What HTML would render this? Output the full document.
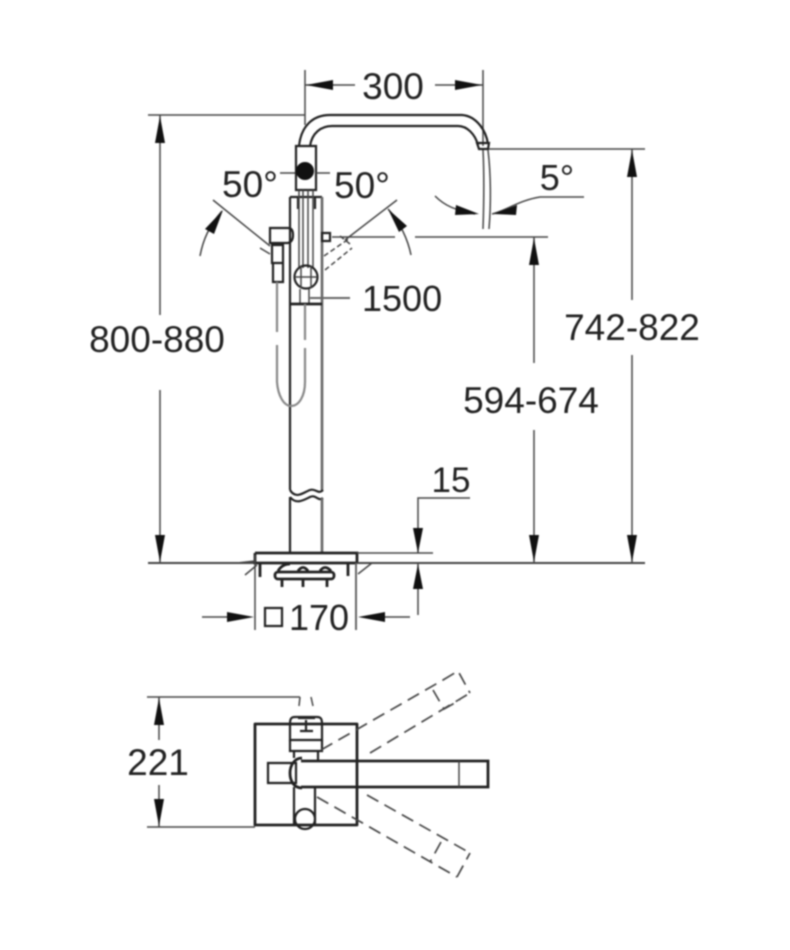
<!DOCTYPE html>
<html><head><meta charset="utf-8"><style>
html,body{margin:0;padding:0;background:#fff;width:790px;height:950px;overflow:hidden}
svg{display:block;filter:blur(.7px)}
text{font-family:"Liberation Sans",sans-serif;font-size:37px;fill:#222}
.t{fill:none;stroke:#444;stroke-width:1.5}
.m{fill:none;stroke:#222;stroke-width:2.2}
.g{fill:none;stroke:#666;stroke-width:2.6}
.k{fill:none;stroke:#222;stroke-width:2.8}
.d{fill:none;stroke:#444;stroke-width:1.7;stroke-dasharray:13 7}
.a{fill:#111;stroke:none}
</style></head><body>
<svg width="790" height="950" viewBox="0 0 790 950" xmlns="http://www.w3.org/2000/svg">
<!-- 300 dim -->
<path class="t" d="M305 70V125M483 70V146M305 85H355M435 85H483"/>
<path class="a" d="M306 85L333 80V90ZM482 85L455 80V90Z"/>
<text x="393" y="99" text-anchor="middle">300</text>
<!-- left dim -->
<path class="t" d="M148 115H305M160 115V315M160 390V563"/>
<path class="g" style="stroke:#444;stroke-width:2" d="M148 563H255M356 563H645"/>
<path class="a" d="M160 116L155 143H165ZM160 562L155 535H165Z"/>
<text x="157" y="352" text-anchor="middle">800-880</text>
<!-- spout -->
<path class="m" d="M299 146C301 127 312 115 330 115H462C476 116 486 130 488 144"/>
<path class="m" d="M310 146C312 133 321 126 332 126H458C467 126 475 134 478 145"/>
<path class="m" d="M477 143L479 149H488L489 143Z"/>
<path class="t" d="M489 149H645M632 149V300M632 355V563"/>
<path class="a" d="M632 150L627 177H637ZM632 562L627 535H637Z"/>
<text x="632" y="340" text-anchor="middle">742-822</text>
<!-- water stream & 5 -->
<path class="t" d="M483 150C484 170 484 200 483 229M488 150C491 175 491 205 489 229"/>
<path class="t" d="M435 196C445 206 455 210 475 214M492 214C505 211 520 200 540 197H584"/>
<path class="a" d="M456 205L479 214L455 215ZM493 214L517 205L516 215Z"/>
<text x="557" y="190" text-anchor="middle" style="font-size:36px">5°</text>
<!-- upper body -->
<path class="m" d="M296 146H316V190H296Z"/>
<circle cx="305" cy="171" r="9" fill="#111"/>
<path class="t" d="M280 173H295M316 173H330"/>
<path class="m" d="M290 197H322M290 197V490M298 197V209M315 197V209"/>
<path class="g" d="M322 197V490"/>
<path class="t" d="M299 190V268M313 190V268M303 190V268M308 190V268"/>
<text x="250" y="197" text-anchor="middle">50°</text>
<text x="362" y="198" text-anchor="middle">50°</text>
<!-- handles -->
<path class="t" d="M213 200L270 246M397 200L345 240"/>
<path class="t" d="M200 256C203 240 209 226 222 211M411 255C408 240 400 222 388 209"/>
<path class="a" d="M223 210L205 229L214 234ZM388 209L399 232L407 226Z"/>
<path class="m" d="M270 228H288Q293 228 293 235T288 243H270Z"/>
<path class="m" d="M272 245H283V263H272ZM273 263H283V282H273Z"/>
<path class="t" d="M260 248L270 254"/>
<path class="m" d="M322 233H330V241H322Z"/>
<path class="t" d="M332 237H395M415 237H548M534 237V363M534 430V563"/>
<path class="t" stroke-dasharray="5 3" d="M324 256L350 238M325 270L352 248M340 236L350 244"/>
<path class="a" d="M534 238L529 265H539ZM534 562L529 535H539Z"/>
<text x="531" y="413" text-anchor="middle">594-674</text>
<!-- knob -->
<circle cx="306" cy="277" r="11.5" class="m"/>
<path class="t" d="M301 266V288M311 266V288M295 277H317"/>
<path class="t" d="M300 289V304M309 289V304"/>
<path class="g" style="stroke-width:2" d="M310 298H350"/>
<path class="k" d="M290 304H322"/>
<text x="362" y="311" style="font-size:36px">1500</text>
<!-- hose -->
<path class="g" style="stroke:#888;stroke-width:2.2" d="M277 282V332M277 345V382C278 396 284 406 291 406C299 406 305 396 305 382V348M305 340V304"/>
<!-- wave -->
<path class="m" d="M290 490C296 500 304 492 310 490S318 495 323 490"/>
<path class="m" d="M290 497C296 505 304 500 310 497S318 502 323 498"/>
<path class="m" d="M290 497V553"/>
<path class="g" d="M322 498V553"/>
<!-- base -->
<path class="k" d="M255 553H357V563M255 553V563H357"/>
<path class="t" d="M357 553H433M255 555V630"/>
<path class="g" style="stroke-width:2" d="M356 563V630"/>
<path class="k" d="M260 563V577M348 563V576"/>
<path class="t" d="M237 563L255 561M245 575L257 565M356 563H372L358 574"/>
<rect x="275" y="572" width="59" height="7" rx="3" class="k"/>
<path class="k" d="M282 578V587M303 578V587M327 578V587M278 571Q282 564 290 564M298 571Q303 564 308 571M320 571Q325 564 331 571"/>
<!-- 15 dim -->
<text x="451" y="492" text-anchor="middle" style="font-size:35px">15</text>
<path class="t" d="M470 498H418V553M418 563V615"/>
<path class="a" d="M418 553L413 528H423ZM418 564L413 589H423Z"/>
<!-- 170 dim -->
<path class="t" d="M202 617H228M382 617H410"/>
<path class="a" d="M254 617L227 612V622ZM358 617L385 612V622Z"/>
<rect x="265" y="608" width="17" height="18" class="m"/>
<text x="289" y="630" style="font-size:36px">170</text>
<!-- lower view -->
<path class="t" d="M147 697H300M147 827H255M159 697V740M159 785V827"/>
<path class="a" d="M159 698L154 725H164ZM159 826L154 799H164Z"/>
<text x="158" y="775" text-anchor="middle">221</text>
<path class="k" d="M255 724H357V825H255Z" stroke-linejoin="round"/>
<path class="m" d="M290 724C290 719 291 717 295 717H317C321 717 322 719 322 724V740H290Z"/>
<path class="m" d="M298 718H315M306 720V731M300 731H313"/>
<path class="t" d="M300 697L299 706M311 697L313 706"/>
<path class="m" d="M290 740V751H322V740M294 751V758M318 751V760M294 787V825M315 787V825"/>
<circle cx="305" cy="819" r="10" class="m" fill="#fff"/>
<path class="m" fill="#fff" d="M268 763H296V783H268Z"/>
<path class="k" fill="#fff" d="M302 758C294 758 290 766 290 773C290 781 294 788 302 788"/>
<path class="k" fill="#fff" d="M301 761H488V787H301"/>
<path class="t" d="M459 761V787"/>
<!-- dashed swing -->
<path class="d" d="M321 750L443 680M370 753L470 693M443 680L458 671L470 693M433 690L444 709L460 700"/>
<path class="d" d="M317 797L457 877M367 795L470 853M457 877L470 853M441 842L430 862"/>
</svg>
</body></html>
